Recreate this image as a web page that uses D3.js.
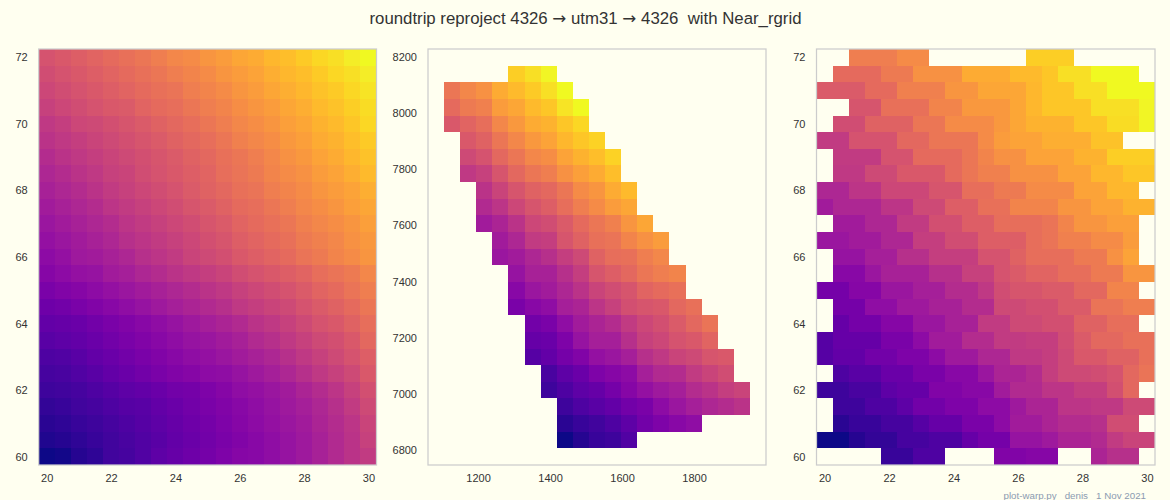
<!DOCTYPE html>
<html>
<head>
<meta charset="utf-8">
<script src="https://cdnjs.cloudflare.com/ajax/libs/d3/7.8.5/d3.min.js"></script>
<style>
    html, body { margin: 0; padding: 0; background: #fffff0; }
    svg { display: block; }
    text { font-family: "Liberation Sans", Arial, sans-serif; fill: #333; }
</style>
</head>
<body>
<div id="chart"></div>
<script>
const _ = null;

const lons = [20, 20.5, 21, 21.5, 22, 22.5, 23, 23.5, 24, 24.5, 25, 25.5, 26, 26.5, 27, 27.5, 28, 28.5, 29, 29.5, 30];
const lats = [72, 71.5, 71, 70.5, 70, 69.5, 69, 68.5, 68, 67.5, 67, 66.5, 66, 65.5, 65, 64.5, 64, 63.5, 63, 62.5, 62, 61.5, 61, 60.5, 60];
const utmX = [1083, 1128, 1173, 1217, 1262, 1307, 1352, 1396, 1441, 1486, 1531, 1575, 1620, 1665, 1710, 1754, 1799, 1844, 1889, 1933, 1978];
const utmY = [8198, 8139, 8080, 8021, 7961, 7902, 7843, 7784, 7724, 7665, 7606, 7547, 7487, 7428, 7369, 7310, 7250, 7191, 7132, 7073, 7013, 6954, 6895, 6836, 6777];

const lonTicks = [20, 22, 24, 26, 28, 30];
const latTicks = [60, 62, 64, 66, 68, 70, 72];
const utmXTicks = [1200, 1400, 1600, 1800];
const utmYTicks = [6800, 7000, 7200, 7400, 7600, 7800, 8000, 8200];

// percent along the plasma colormap, rows top to bottom
const source = [
    [54,56,58,60,62,64,66,68,71,72,75,77,80,81,84,86,89,92,94,97,100],
    [52,54,56,58,60,62,64,66,68,70,72,75,77,79,82,84,86,89,92,94,97],
    [50,52,54,56,58,60,62,64,65,68,70,72,75,77,80,82,84,87,89,92,95],
    [48,50,52,54,56,57,60,62,63,66,68,70,73,75,77,80,82,85,87,90,93],
    [45,47,50,51,53,55,57,59,61,63,66,68,71,73,75,78,80,83,85,88,92],
    [43,45,47,49,51,53,55,57,59,61,63,66,69,71,73,76,78,81,83,86,89],
    [41,43,45,47,49,51,53,55,57,59,61,64,66,68,71,74,76,79,81,84,87],
    [39,41,43,45,48,49,52,54,56,58,60,63,65,67,70,72,74,77,79,82,85],
    [37,39,41,43,46,48,50,52,54,57,59,61,64,65,68,70,72,75,77,79,82],
    [35,37,39,41,44,46,48,50,52,55,57,59,62,63,66,68,71,73,75,78,80],
    [33,35,37,39,41,44,46,48,50,52,55,57,60,62,64,66,69,71,73,75,78],
    [31,33,35,37,39,42,44,46,48,50,53,55,58,60,62,64,67,69,71,74,76],
    [29,31,34,35,37,39,42,44,46,49,51,53,56,58,60,62,65,67,70,72,75],
    [27,29,31,32,35,36,39,41,43,45,47,49,52,54,56,58,60,63,65,67,71],
    [24,26,27,29,31,33,35,37,39,41,43,45,48,50,52,54,57,60,62,65,68],
    [21,22,24,26,28,30,32,34,36,38,40,42,45,47,49,51,54,57,59,62,66],
    [18,19,20,22,24,26,28,30,32,34,36,38,40,43,45,48,51,54,56,59,63],
    [16,17,18,20,22,24,26,28,30,32,33,35,37,40,42,45,48,51,53,56,61],
    [13,14,16,18,20,22,24,26,28,30,31,33,35,37,39,42,45,48,51,54,58],
    [11,12,14,16,18,20,22,24,26,27,29,30,32,34,36,39,42,45,48,51,56],
    [9,10,11,13,15,17,18,20,22,23,25,27,30,31,33,35,38,41,44,48,53],
    [7,8,10,11,13,15,16,18,20,22,24,26,28,30,32,34,36,39,42,46,51],
    [5,6,8,9,11,13,15,17,19,21,23,25,27,29,31,33,35,38,41,44,49],
    [3,4,6,8,10,12,14,16,18,20,22,24,26,28,30,32,34,37,40,43,48],
    [0,1,4,6,10,11,14,17,19,21,23,25,27,28,30,32,34,37,40,43,46]
];

const warped = [
    [_,_,_,_,_,_,_,_,_,_,_,_,_,_,_,_,_,_,_,_,_],
    [_,_,_,_,_,90,94,99,_,_,_,_,_,_,_,_,_,_,_,_,_],
    [_,66,71,74,81,85,89,94,100,_,_,_,_,_,_,_,_,_,_,_,_],
    [_,62,67,69,77,80,85,88,95,100,_,_,_,_,_,_,_,_,_,_,_],
    [_,56,60,63,71,76,81,83,88,92,_,_,_,_,_,_,_,_,_,_,_],
    [_,_,56,59,66,71,76,79,84,88,91,_,_,_,_,_,_,_,_,_,_],
    [_,_,51,54,61,66,71,73,79,83,86,91,_,_,_,_,_,_,_,_,_],
    [_,_,45,48,55,61,66,68,74,78,81,86,_,_,_,_,_,_,_,_,_],
    [_,_,_,43,49,55,59,61,66,72,75,81,85,_,_,_,_,_,_,_,_],
    [_,_,_,40,44,50,55,58,63,68,72,77,80,_,_,_,_,_,_,_,_],
    [_,_,_,35,38,43,50,52,57,62,66,69,75,80,_,_,_,_,_,_,_],
    [_,_,_,_,35,39,46,47,55,59,64,65,70,74,77,_,_,_,_,_,_],
    [_,_,_,_,33,35,39,42,47,51,59,63,64,68,71,_,_,_,_,_,_],
    [_,_,_,_,_,32,37,37,42,47,55,58,61,66,68,70,_,_,_,_,_],
    [_,_,_,_,_,28,33,35,39,43,49,52,55,60,62,64,_,_,_,_,_],
    [_,_,_,_,_,24,28,30,36,38,44,48,53,55,56,61,64,_,_,_,_],
    [_,_,_,_,_,_,22,24,30,35,38,41,46,50,53,57,61,65,_,_,_],
    [_,_,_,_,_,_,19,20,25,32,36,36,42,48,50,54,56,60,_,_,_],
    [_,_,_,_,_,_,15,18,23,26,31,33,36,42,45,49,51,55,56,_,_],
    [_,_,_,_,_,_,_,12,17,20,25,27,29,36,40,41,46,49,52,_,_],
    [_,_,_,_,_,_,_,9,13,17,19,23,27,31,34,36,41,43,47,49,_],
    [_,_,_,_,_,_,_,_,9,13,16,18,22,24,29,33,36,39,41,43,_],
    [_,_,_,_,_,_,_,_,5,8,10,13,17,22,25,28,30,_,_,_,_],
    [_,_,_,_,_,_,_,_,0,4,8,9,14,_,_,_,_,_,_,_,_],
    [_,_,_,_,_,_,_,_,_,_,_,_,_,_,_,_,_,_,_,_,_]
];

const roundtrip = [
    [_,_,68,68,68,72,72,_,_,_,_,_,_,90,90,90,_,_,_,_,_],
    [_,62,62,62,67,67,74,74,74,81,81,81,85,85,88,94,94,100,100,100,_],
    [57,57,57,62,62,69,69,69,75,75,80,80,80,84,88,88,94,94,100,100,100],
    [_,_,55,55,64,64,64,70,70,76,76,76,80,84,88,88,88,94,94,94,99],
    [_,52,52,59,59,59,66,66,72,72,72,76,80,83,83,83,88,88,93,93,99],
    [46,46,54,54,54,61,61,66,66,66,72,77,79,79,82,82,82,87,87,_,_],
    [_,46,46,46,54,54,62,62,62,66,70,74,74,79,79,79,83,83,90,90,90],
    [_,45,45,51,51,56,56,56,62,66,69,69,74,74,74,79,79,84,84,88,88],
    [39,39,44,44,50,50,50,55,55,63,63,67,67,72,72,72,79,79,84,84,_],
    [35,39,39,39,44,44,51,51,58,58,64,64,70,70,70,75,75,79,79,83,83],
    [_,35,35,39,39,46,46,53,53,58,58,63,63,63,65,70,75,75,78,78,_],
    [33,33,35,35,39,39,47,47,52,52,58,58,58,63,65,69,69,72,72,77,_],
    [_,32,32,36,36,42,42,47,47,47,54,54,59,63,63,63,67,67,74,79,_],
    [_,28,28,33,37,37,37,42,42,48,48,54,57,60,60,63,63,67,67,75,75],
    [23,23,27,27,33,33,36,36,41,41,45,52,55,55,57,57,61,61,70,70,_],
    [_,23,23,30,30,34,34,37,37,41,41,51,51,53,53,57,57,65,65,68,68],
    [_,19,23,23,27,27,33,33,37,37,46,46,51,51,53,53,59,59,63,63,_],
    [15,19,19,19,24,24,29,35,35,41,41,46,46,47,47,52,57,61,61,64,64],
    [15,18,18,22,22,25,25,29,34,34,39,39,45,45,47,51,56,56,59,59,64],
    [_,13,16,16,20,20,24,24,28,28,33,38,38,41,47,51,51,52,54,61,65],
    [9,9,12,12,17,19,19,26,26,28,28,35,40,40,44,44,47,47,53,61,_],
    [_,9,9,13,13,17,22,22,25,25,29,29,34,38,38,44,44,45,45,51,51],
    [_,5,8,8,11,11,15,19,19,24,24,29,35,35,38,41,41,42,52,52,_],
    [0,0,4,7,7,11,11,13,13,19,23,23,32,32,34,38,38,40,46,49,49],
    [_,_,_,_,8,8,13,13,_,_,_,26,26,27,27,_,_,38,42,42,_]
];

const width = 1170;
const height = 500;
const top_ = 49;
const bottom = 465;

const color = d3.scaleSequential(d3.interpolatePlasma).domain([0, 100]);

const svg = d3.select("#chart").append("svg")
    .attr("width", width)
    .attr("height", height);

svg.append("rect")
    .attr("width", width)
    .attr("height", height)
    .attr("fill", "#fffff0");

function panel(left, right, xDomain, yDomain, xVals, yVals, values, xTicks, yTicks) {
    // linear scales for the axes, band scales for the grid cells
    const x = d3.scaleLinear().domain(xDomain).range([left, right]);
    const y = d3.scaleLinear().domain(yDomain).range([bottom, top_]);
    const xCell = d3.scaleBand().domain(xVals).range([left, right]);
    const yCell = d3.scaleBand().domain(yVals).range([top_, bottom]);

    const cells = [];
    values.forEach((row, j) => row.forEach((v, i) => {
        if (v !== null) cells.push({ cx: xVals[i], cy: yVals[j], v: v });
    }));

    svg.append("g")
        .attr("shape-rendering", "crispEdges")
        .selectAll("rect")
        .data(cells)
        .enter()
        .append("rect")
        .attr("x", d => xCell(d.cx))
        .attr("y", d => yCell(d.cy))
        .attr("width", xCell.bandwidth())
        .attr("height", yCell.bandwidth())
        .attr("fill", d => color(d.v));

    // light frame, no tick marks
    svg.append("rect")
        .attr("x", left)
        .attr("y", top_)
        .attr("width", right - left)
        .attr("height", bottom - top_)
        .attr("fill", "none")
        .attr("stroke", "#cccccc")
        .attr("stroke-width", 1.25);

    const xAxis = svg.append("g")
        .attr("transform", `translate(0, ${bottom})`)
        .call(d3.axisBottom(x).tickValues(xTicks).tickFormat(d3.format("d")).tickSize(0).tickPadding(9));
    const yAxis = svg.append("g")
        .attr("transform", `translate(${left}, 0)`)
        .call(d3.axisLeft(y).tickValues(yTicks).tickFormat(d3.format("d")).tickSize(0).tickPadding(11));

    [xAxis, yAxis].forEach(a => {
        a.select(".domain").remove();
        a.selectAll("text")
            .style("font-family", "'Liberation Sans', Arial, sans-serif")
            .style("font-size", "11px")
            .attr("fill", "#333");
    });
}

panel(38.7, 376.5, [19.75, 30.25], [59.75, 72.25], lons, lats, source, lonTicks, latTicks);
panel(428, 766, [1061, 2000], [6747, 8228], utmX, utmY, warped, utmXTicks, utmYTicks);
panel(816.5, 1155, [19.75, 30.25], [59.75, 72.25], lons, lats, roundtrip, lonTicks, latTicks);

// title, arrows set in DejaVu like the math font of the original
const title = svg.append("text")
    .attr("x", 585.5)
    .attr("y", 24)
    .attr("text-anchor", "middle")
    .style("font-size", "16.8px")
    .style("white-space", "pre");
title.append("tspan").text("roundtrip reproject 4326 ");
title.append("tspan").style("font-family", "'DejaVu Sans'").text("\u2192");
title.append("tspan").text(" utm31 ");
title.append("tspan").style("font-family", "'DejaVu Sans'").text("\u2192");
title.append("tspan").text(" 4326  with Near_rgrid");

svg.append("text")
    .attr("x", 1146)
    .attr("y", 499)
    .attr("text-anchor", "end")
    .style("font-size", "9.75px")
    .style("white-space", "pre")
    .style("fill", "#8b9bb0")
    .text("plot-warp.py   denis   1 Nov 2021");
</script>
</body>
</html>
